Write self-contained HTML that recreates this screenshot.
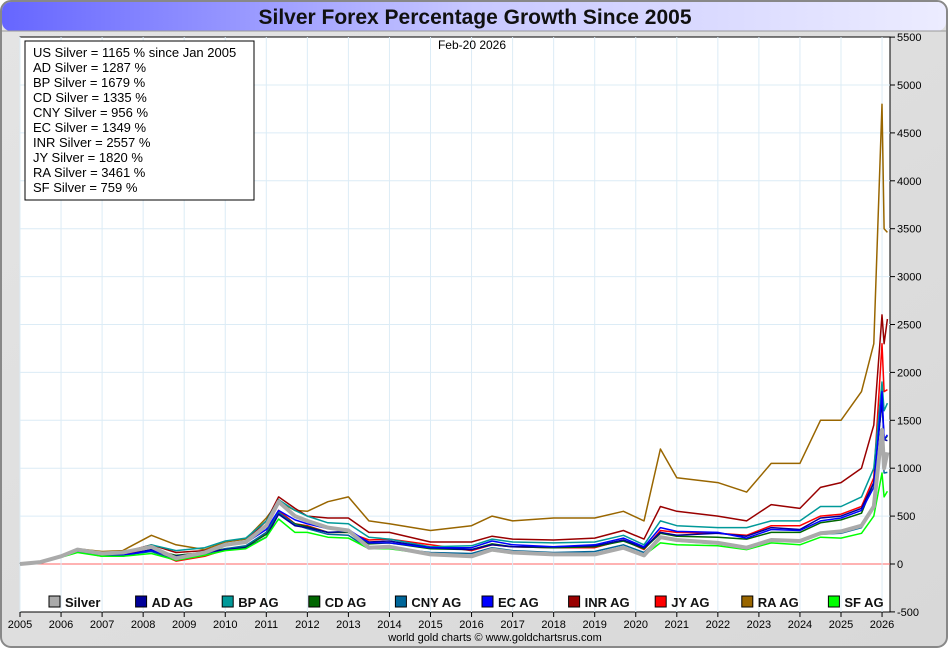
<!DOCTYPE html>
<html><head><meta charset="utf-8"><style>
body{margin:0;background:#fff;font-family:"Liberation Sans",sans-serif}
#wrap{position:relative;width:950px;height:650px;overflow:hidden}
</style></head><body>
<div id="wrap">
<svg id="chart" width="950" height="650" xmlns="http://www.w3.org/2000/svg">
<defs>
<linearGradient id="tg" x1="0" x2="1" y1="0" y2="0"><stop offset="0" stop-color="#6666ff"/><stop offset="0.5" stop-color="#c8c8ff"/><stop offset="1" stop-color="#ececff"/></linearGradient>
<linearGradient id="bg" x1="0" x2="1" y1="0" y2="1"><stop offset="0" stop-color="#e4e4e4"/><stop offset="1" stop-color="#d8d8d8"/></linearGradient>
</defs>
<rect x="1" y="1" width="946" height="646" rx="10" fill="url(#bg)" stroke="#888" stroke-width="2"/>
<rect x="2" y="2" width="944" height="29" rx="9" fill="url(#tg)"/>
<line x1="2" y1="31" x2="946" y2="31" stroke="#999"/>
<text x="475" y="24" text-anchor="middle" font-size="21" font-weight="bold" fill="#111">Silver Forex Percentage Growth Since 2005</text>
<rect x="20" y="37" width="870" height="575" fill="#fff" stroke="#000"/>
<g id="grid"></g>
<g id="series"></g>
<g id="axes"></g>
<text x="472" y="49" text-anchor="middle" font-size="12" fill="#000">Feb-20  2026</text>
<rect x="25" y="41" width="229" height="159" fill="#fff" stroke="#000"/>
<g id="stats" font-size="13" fill="#000"></g>
<g id="legend" font-size="13" font-weight="bold" fill="#111"></g>
<text x="495" y="641" text-anchor="middle" font-size="11" fill="#000">world gold charts © www.goldchartsrus.com</text>
</svg>
</div>
<script>
const dates=[2005.0,2005.5,2006.0,2006.4,2007,2007.5,2008.2,2008.8,2009.5,2010,2010.5,2011.0,2011.3,2011.7,2012,2012.5,2013,2013.5,2014,2015,2016,2016.5,2017,2018,2019,2019.7,2020.2,2020.6,2021,2022,2022.7,2023.3,2024,2024.5,2025,2025.5,2025.8,2026.0,2026.05,2026.13];
const raVals=[0,20,90,160,130,140,300,200,150,230,260,480,650,560,550,650,700,450,420,350,400,500,450,480,480,550,450,1200,900,850,750,1050,1050,1500,1500,1800,2300,4800,3500,3461];
const inrVals=[0,20,80,150,110,120,200,120,140,200,240,450,700,580,500,480,480,330,330,230,230,290,260,250,270,350,260,600,550,500,450,620,580,800,850,1000,1450,2600,2300,2557];
const jyVals=[0,20,80,150,100,110,140,30,80,150,180,330,560,420,400,330,330,250,260,200,140,200,180,170,170,250,150,350,330,320,300,400,400,500,520,600,900,2300,1800,1820];
const bpVals=[0,20,80,140,100,110,200,140,170,240,270,450,670,560,500,430,420,280,260,180,190,260,230,220,230,300,200,450,400,380,380,450,450,600,600,700,1000,1900,1600,1679];
const cdVals=[0,20,70,130,80,80,150,90,120,160,180,310,530,420,390,330,330,210,220,160,150,210,180,170,180,240,160,320,290,280,260,330,330,430,460,530,850,1700,1300,1335];
const cnyVals=[0,20,75,130,90,90,130,40,100,160,190,330,540,410,370,310,300,160,170,120,110,170,140,120,130,200,120,280,240,210,170,250,240,310,320,380,600,1300,950,956];
const adVals=[0,20,70,130,90,90,150,80,120,150,170,280,520,400,380,330,340,230,240,170,150,200,180,180,190,250,170,330,300,320,290,380,360,480,500,580,850,1700,1300,1287];
const ecVals=[0,20,70,130,90,90,140,70,110,190,220,360,560,460,420,370,360,220,220,170,170,240,200,180,200,270,180,380,340,330,270,360,350,450,480,560,800,1800,1300,1349];
const sfVals=[0,20,70,120,80,80,110,40,90,140,160,280,470,330,330,280,270,160,160,100,90,140,110,100,110,170,90,220,200,190,150,220,200,280,270,320,500,950,700,759];
const usVals=[0,20,80,150,110,120,180,60,120,200,230,400,650,500,450,380,350,170,180,100,80,150,120,100,100,170,90,280,250,220,170,250,240,320,340,400,600,1400,1000,1165];
const yTicks=[-500,0,500,1000,1500,2000,2500,3000,3500,4000,4500,5000,5500];
const xTicks=[2005,2006,2007,2008,2009,2010,2011,2012,2013,2014,2015,2016,2017,2018,2019,2020,2021,2022,2023,2024,2025,2026];
const statLabels=["US Silver = 1165 % since Jan 2005","AD Silver = 1287 %","BP Silver = 1679 %","CD Silver = 1335 %","CNY Silver = 956 %","EC Silver = 1349 %","INR Silver = 2557 %","JY Silver = 1820 %","RA Silver = 3461 %","SF Silver = 759 %"];
const legendNames=["Silver","AD AG","BP AG","CD AG","CNY AG","EC AG","INR AG","JY AG","RA AG","SF AG"];
const legendColors=["#aaaaaa","#000099","#009999","#006600","#006699","#0000ff","#990000","#ff0000","#996600","#00ff00"];

const NS="http://www.w3.org/2000/svg";
const X=v=>20+(v-2005)*41.05;
const Y=v=>564-v*0.0958;
function mk(tag,attrs,parent){const e=document.createElementNS(NS,tag);for(const k in attrs)e.setAttribute(k,attrs[k]);parent.appendChild(e);return e;}
const grid=document.getElementById('grid'),axes=document.getElementById('axes'),ser=document.getElementById('series');
yTicks.forEach(t=>{
  if(t>-500&&t<5500){const l=mk('line',{x1:20,x2:890,y1:Y(t),y2:Y(t),stroke:t===0?'#ff6666':'#dcecf6','stroke-width':1},grid);
  
  }
  mk('line',{x1:890,x2:895,y1:Y(t),y2:Y(t),stroke:'#000'},axes);
  const tx=mk('text',{x:897,y:Y(t)+4,'font-size':11,fill:'#000'},axes);tx.textContent=t;
  
  
});
xTicks.forEach(t=>{
  const l=mk('line',{x1:X(t),x2:X(t),y1:37,y2:612,stroke:'#dcecf6'},grid);
  
  
  mk('line',{x1:X(t),x2:X(t),y1:612,y2:617,stroke:'#000'},axes);
  const tx=mk('text',{x:X(t),y:628,'font-size':11,fill:'#000','text-anchor':'middle'},axes);tx.textContent=t;
  
  
});
const order=[[raVals,8,'ra'],[inrVals,6,'inr'],[jyVals,7,'jy'],[bpVals,2,'bp'],[cdVals,3,'cd'],[cnyVals,4,'cny'],[adVals,1,'ad'],[ecVals,5,'ec'],[sfVals,9,'sf'],[usVals,0,'us']];
order.forEach(([vals,ci,nm])=>{
  const d=vals.map((v,i)=>(i?'L':'M')+X(dates[i]).toFixed(1)+','+Y(v).toFixed(1)).join(' ');
  const p=mk('path',{d:d,fill:'none',stroke:legendColors[ci],'stroke-width':nm==='us'?4:1.5,'stroke-linejoin':'round'},ser);
  
  
});
const st=document.getElementById('stats');
statLabels.forEach((s,i)=>{const t=mk('text',{x:33,y:57+i*15},st);t.textContent=s;
  
  });
const lg=document.getElementById('legend');
legendNames.forEach((n,i)=>{const x=49+i*86.6;
  const r=mk('rect',{x:x,y:596,width:11,height:11,fill:legendColors[i],stroke:'#000'},lg);
  
  
  const t=mk('text',{x:x+16,y:607},lg);t.textContent=n;
  
  });
</script>
</body></html>
